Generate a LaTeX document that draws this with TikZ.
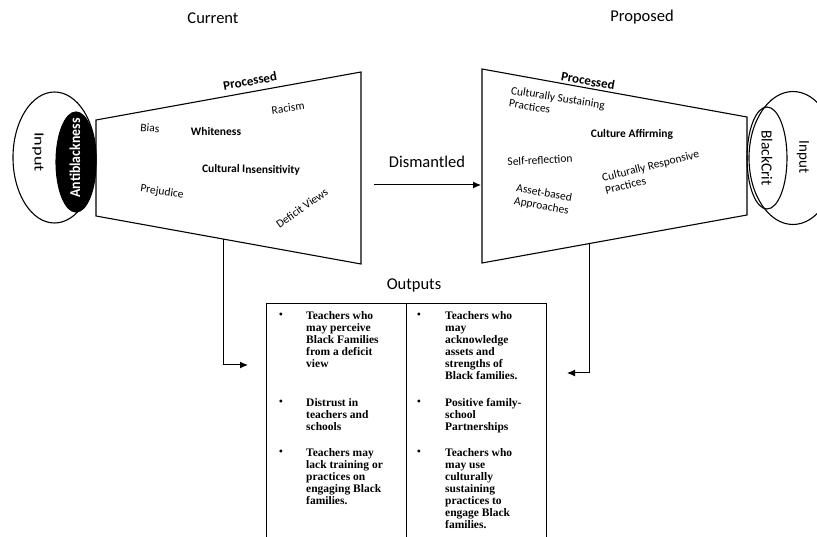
\documentclass[tikz,border=0pt]{standalone}
\usepackage{fontspec}
\setmainfont{Carlito}
\newfontfamily\tnr{Liberation Serif}
\usetikzlibrary{arrows.meta,shapes.geometric}
\begin{document}
\begin{tikzpicture}[x=1pt,y=-1pt,
  lbl/.style={font=\fontsize{11.5}{13}\selectfont, inner sep=0pt, align=left},
  blbl/.style={font=\fontsize{11.5}{13}\selectfont\bfseries, inner sep=0pt, align=left},
  head/.style={font=\fontsize{16.5}{18}\selectfont, inner sep=0pt},
  shapeline/.style={draw=black, line width=1.1pt},
  conn/.style={line width=1pt, -{Latex[length=8pt,width=7pt]}},
  outtext/.style={font=\tnr\bfseries\fontsize{11.5}{12.1}\selectfont, anchor=north west, align=left, inner sep=0pt},
  bul/.style={font=\tnr\fontsize{12}{12}\selectfont, inner sep=0pt},
  oval/.style={ellipse, draw=black, line width=1.1pt, inner sep=0pt}
]
\clip (0,0) rectangle (817,537);
\fill[white] (0,0) rectangle (817,537);

% headings
\node[head] (cur) at (213,18) {Current};
\node[head] (prop) at (642,17) {Proposed};

% left funnel
\coordinate (LTL) at (96,120);
\coordinate (LTR) at (361,72);
\coordinate (LBR) at (361,264);
\coordinate (LBL) at (96,216);
\draw[shapeline] (LTL) -- (LTR) -- (LBR) -- (LBL) -- cycle;
\node[oval, minimum width=83pt, minimum height=131pt] (inL) at (54.5,157.5) {};
\node[oval, fill=black, minimum width=40pt, minimum height=100pt] (abl) at (76,162) {};
\node[font=\fontsize{14}{16}\selectfont, rotate=-90, xscale=1.3, inner sep=0pt] (inLt) at (38,152) {Input};
\node[font=\fontsize{15}{16}\selectfont\bfseries, text=white, rotate=90, xscale=0.92, inner sep=0pt] (ablt) at (75,158) {Antiblackness};

\node[blbl, font=\fontsize{13}{14}\selectfont\bfseries, rotate=10] (procL) at (250,81) {Processed};
\node[lbl, rotate=8] (racism) at (288,108) {Racism};
\node[lbl, rotate=-5] (bias) at (150,128) {Bias};
\node[blbl] (white) at (216,132) {Whiteness};
\node[blbl, rotate=-1] (cult) at (251,170) {Cultural Insensitivity};
\node[lbl, rotate=-8] (prej) at (162,192) {Prejudice};
\node[lbl, rotate=35] (defv) at (302,208) {Deficit Views};

% dismantled
\node[head] (dism) at (427,162) {Dismantled};
\coordinate (dA) at (374,185);
\coordinate (dB) at (481,185);
\draw[conn] (dA) -- (dB);

% right funnel
\coordinate (RTL) at (482,69);
\coordinate (RTR) at (747,117);
\coordinate (RBR) at (747,215);
\coordinate (RBL) at (482,263);
\draw[shapeline] (RTL) -- (RTR) -- (RBR) -- (RBL) -- cycle;
\node[oval, minimum width=88pt, minimum height=133pt] (inR) at (793,158) {};
\node[oval, minimum width=40pt, minimum height=102pt] (bc) at (767,158) {};
\node[font=\fontsize{15.5}{16}\selectfont, rotate=-90, inner sep=0pt] (bct) at (767,158) {BlackCrit};
\node[font=\fontsize{15}{16}\selectfont, rotate=-90, inner sep=0pt] (inRt) at (803,157) {Input};

\node[blbl, font=\fontsize{13}{14}\selectfont\bfseries, rotate=-10] (procR) at (588,81) {Processed};
\node[lbl, rotate=-9] (csp) at (557,104) {Culturally Sustaining\\Practices};
\node[blbl] (caff) at (632,134) {Culture Affirming};
\node[lbl, rotate=3] (selfr) at (540,160) {Self-reflection};
\node[lbl, rotate=14] (crp) at (652,172) {Culturally Responsive\\Practices};
\node[lbl, rotate=-10] (abap) at (543,200) {Asset-based\\Approaches};

% outputs
\node[head] (outs) at (414,285) {Outputs};
\coordinate (BTL) at (266,303);
\coordinate (BTM) at (406,303);
\coordinate (BTR) at (546,303);
\coordinate (BBL) at (266,545);
\coordinate (BBM) at (406,545);
\coordinate (BBR) at (546,545);
\draw[line width=0.9pt] (BBL) -- (BTL) -- (BTR) -- (BBR);
\draw[line width=0.9pt] (BTM) -- (BBM);

\foreach \y in {316,403,453} {
  \node[bul] at (281,\y) {\textbullet};
  \node[bul] at (419,\y) {\textbullet};
}
\node[outtext] (l1) at (306,311) {Teachers who\\may perceive\\Black Families\\from a deficit\\view};
\node[outtext] (l2) at (306,398) {Distrust in\\teachers and\\schools};
\node[outtext] (l3) at (306,448) {Teachers may\\lack training or\\practices on\\engaging Black\\families.};
\node[outtext] (r1) at (445,311) {Teachers who\\may\\acknowledge\\assets and\\strengths of\\Black families.};
\node[outtext] (r2) at (445,398) {Positive family-\\school\\Partnerships};
\node[outtext] (r3) at (445,448) {Teachers who\\may use\\culturally\\sustaining\\practices to\\engage Black\\families.};

% connectors
\coordinate (cL) at (223,239);
\coordinate (cLa) at (248,365);
\coordinate (cR) at (589,243.6);
\coordinate (cRa) at (567,373);
\draw[conn] (cL) |- (cLa);
\draw[conn] (cR) |- (cRa);
\end{tikzpicture}
\end{document}
